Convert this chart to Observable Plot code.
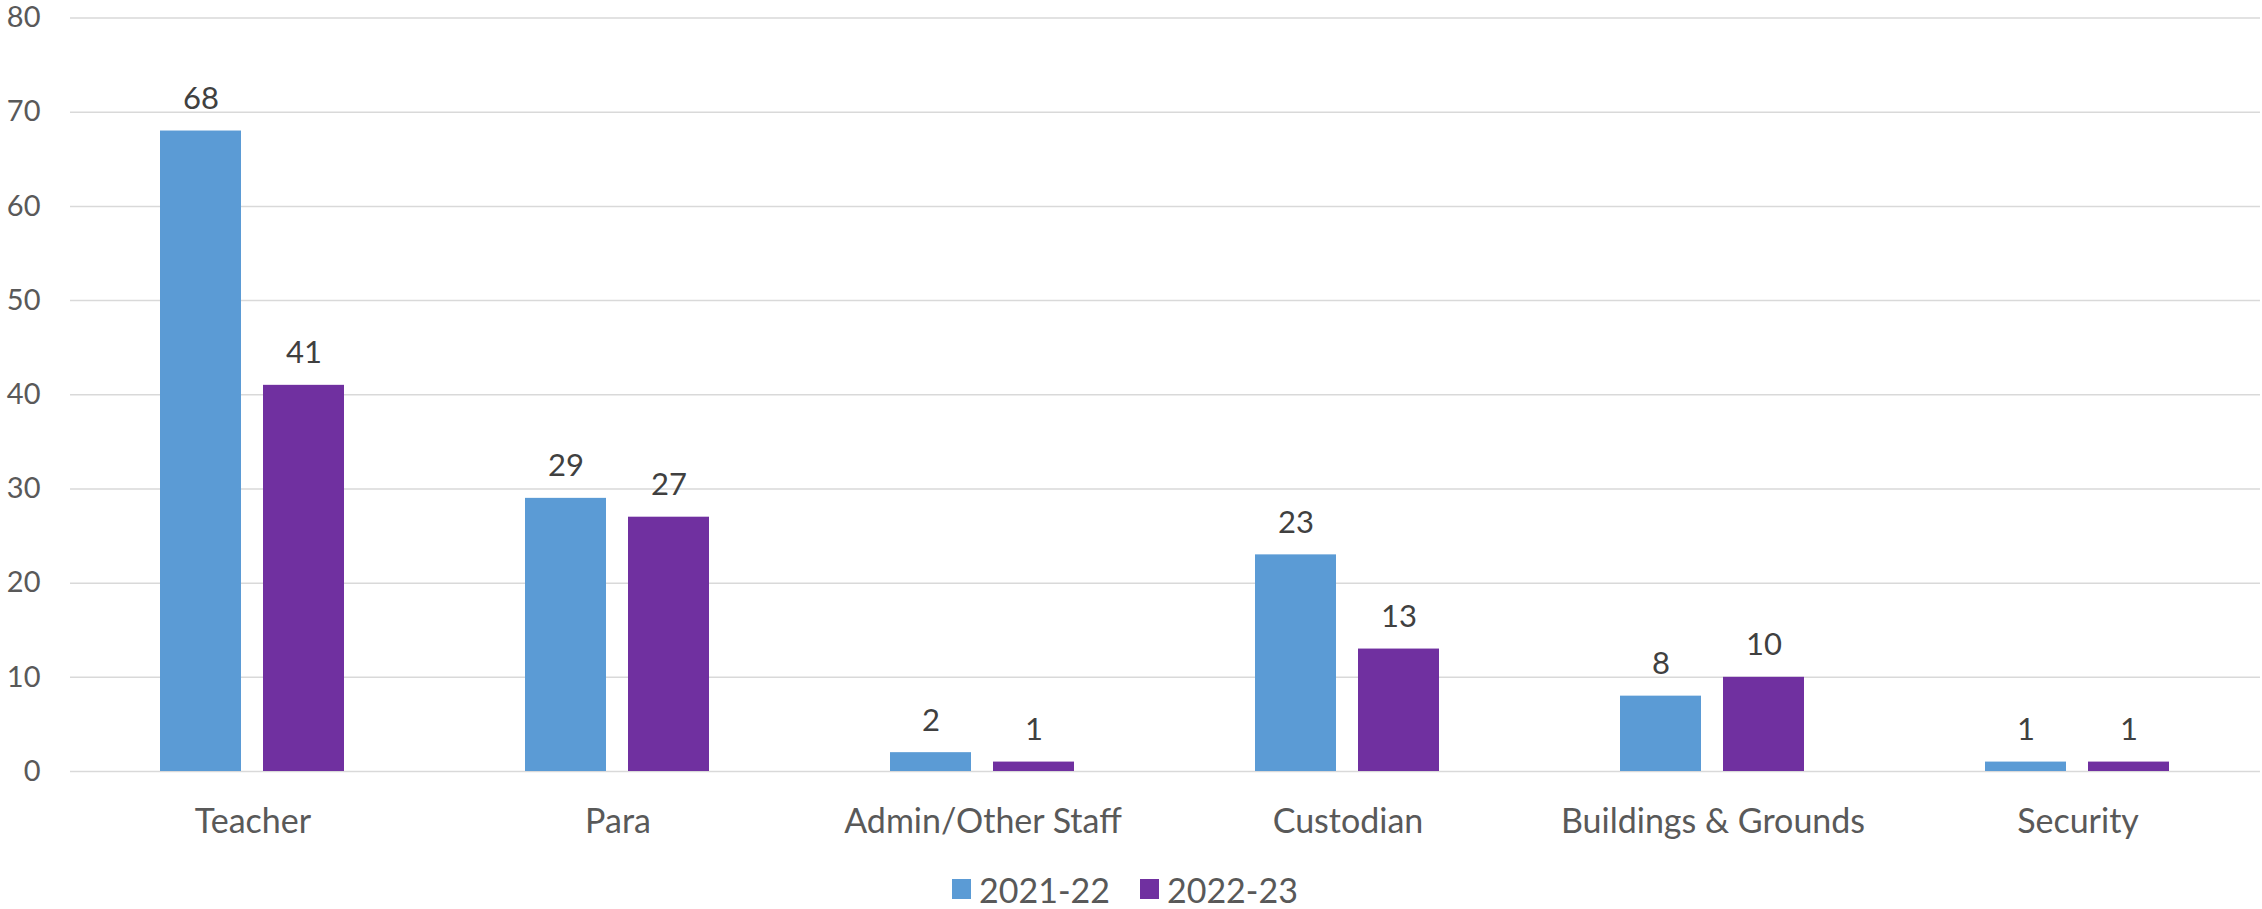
<!DOCTYPE html>
<html>
<head>
<meta charset="utf-8">
<script src="https://cdn.jsdelivr.net/npm/d3@7"></script>
<script src="https://cdn.jsdelivr.net/npm/@observablehq/plot@0.6"></script>
<style>
  html, body { margin: 0; padding: 0; background: #fff; }
  #wrap { position: relative; width: 2262px; height: 909px; font-family: Lato, "Open Sans", sans-serif; }
  #legend { position: absolute; left: 952px; top: 872px; height: 34px; display: flex; align-items: center; font-size: 34px; color: #595959; }
  .item { display: flex; align-items: center; margin-right: 30px; }
  .sw { width: 19px; height: 20px; margin-right: 8px; }
</style>
</head>
<body>
<div id="wrap">
  <div id="chart"></div>
  <div id="legend"></div>
</div>
<script>
const categories = ["Teacher", "Para", "Admin/Other Staff", "Custodian", "Buildings & Grounds", "Security"];
const series = ["2021-22", "2022-23"];
const values2021 = [68, 29, 2, 23, 8, 1];
const values2022 = [41, 27, 1, 13, 10, 1];
const colors = ["#5B9BD5", "#7030A0"];
const yTicks = [0, 10, 20, 30, 40, 50, 60, 70, 80];

const data = [];
categories.forEach((c, i) => {
  data.push({category: c, series: series[0], value: values2021[i]});
  data.push({category: c, series: series[1], value: values2022[i]});
});

const chart = Plot.plot({
  width: 2262,
  height: 850,
  marginLeft: 67,
  marginRight: 0,
  marginTop: 17.5,
  marginBottom: 79,
  style: {fontFamily: "Lato, 'Open Sans', sans-serif", fontSize: "34px", color: "#595959", background: "#fff", overflow: "visible"},
  fx: {domain: categories, padding: 0, label: null},
  x: {domain: series, paddingInner: 0.2115, paddingOuter: 0.865, axis: null},
  y: {domain: [0, 80], label: null},
  color: {domain: series, range: colors},
  marks: [
    Plot.gridY(yTicks, {stroke: "#d9d9d9", strokeOpacity: 1, strokeWidth: 1.5}),
    Plot.axisY(yTicks, {tickSize: 0, tickPadding: 30, fontSize: 29, fill: "#595959", label: null}),
    Plot.axisFx({anchor: "bottom", tickSize: 0, tickPadding: 37, fontSize: 34, fill: "#595959", label: null}),
    Plot.barY(data, {fx: "category", x: "series", y: "value", fill: "series"}),
    Plot.text(data, {fx: "category", x: "series", y: "value", text: d => String(d.value), lineAnchor: "bottom", dy: -22, fontSize: 31, fill: "#404040"})
  ]
});
document.getElementById("chart").appendChild(chart);

const legend = document.getElementById("legend");
series.forEach((s, i) => {
  const item = document.createElement("div");
  item.className = "item";
  const sw = document.createElement("div");
  sw.className = "sw";
  sw.style.background = colors[i];
  const t = document.createElement("span");
  t.textContent = s;
  item.appendChild(sw);
  item.appendChild(t);
  legend.appendChild(item);
});
</script>
</body>
</html>
